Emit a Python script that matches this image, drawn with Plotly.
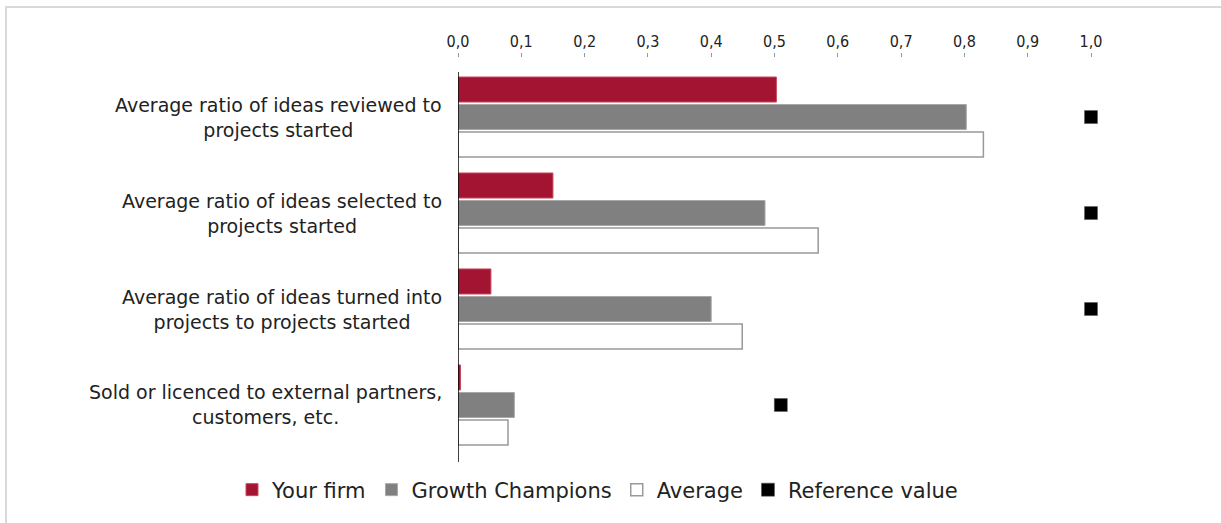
import plotly.graph_objects as go

# Categories (top to bottom) and series values
categories = [
    "Average ratio of ideas reviewed to<br>projects started",
    "Average ratio of ideas selected to<br>projects started",
    "Average ratio of ideas turned into<br>projects to projects started",
    "Sold or licenced to external partners,<br>customers, etc.",
]
your_firm = [0.503, 0.150, 0.052, 0.004]
growth_champions = [0.803, 0.485, 0.400, 0.089]
average = [0.830, 0.569, 0.449, 0.079]
reference_value = [1.0, 1.0, 1.0, 0.51]
tick_values = [0.0, 0.1, 0.2, 0.3, 0.4, 0.5, 0.6, 0.7, 0.8, 0.9, 1.0]

W, H = 1221, 523
ML, MR, MT, MB = 458, 130, 58, 61
PW, PH = W - ML - MR, H - MT - MB


def px_x(px):
    """Pixel column -> paper x."""
    return (px - ML) / PW


def px_y(py):
    """Pixel row -> paper y."""
    return (H - MB - py) / PH


idx = list(range(len(categories)))
LABEL_FONT = "DejaVu Sans, Verdana, sans-serif"
TICK_FONT = "DejaVu Sans Condensed, DejaVu Sans, sans-serif"

fig = go.Figure()
fig.add_trace(go.Bar(
    name="Your firm", y=idx, x=your_firm, orientation="h",
    marker=dict(color="#A31432", line=dict(color="#C9485E", width=1)),
))
fig.add_trace(go.Bar(
    name="Growth Champions", y=idx, x=growth_champions, orientation="h",
    marker=dict(color="#808080", line=dict(color="#A8A8A8", width=1)),
))
fig.add_trace(go.Bar(
    name="Average", y=idx, x=average, orientation="h",
    marker=dict(color="#FFFFFF", line=dict(color="#999999", width=1.5)),
))
fig.add_trace(go.Scatter(
    name="Reference value", y=idx, x=reference_value, mode="markers",
    marker=dict(symbol="square", size=13, color="#000000",
                line=dict(color="#555555", width=0.5)),
    cliponaxis=False,
))

# Category labels, centred multi-line text to the left of the axis
for i, label in enumerate(categories):
    fig.add_annotation(
        x=0, y=i, xref="x", yref="y", text=label, showarrow=False,
        xanchor="right", yanchor="middle", align="center", xshift=-14,
        font=dict(family=LABEL_FONT, size=19, color="#222222"),
    )

# Vertical zero line
fig.add_shape(type="line", xref="x", yref="y", x0=0, x1=0, y0=-0.47, y1=3.594,
              line=dict(color="#000000", width=1.5), layer="above")

# Light frame along top and left edges
fig.add_shape(type="line", xref="paper", yref="paper",
              x0=px_x(5), x1=px_x(W + 5), y0=px_y(7), y1=px_y(7),
              line=dict(color="#D9D9D9", width=2))
fig.add_shape(type="line", xref="paper", yref="paper",
              x0=px_x(6), x1=px_x(6), y0=px_y(6), y1=px_y(H + 5),
              line=dict(color="#D9D9D9", width=2))

fig.update_layout(
    width=W, height=H,
    margin=dict(l=ML, r=MR, t=MT, b=MB, pad=0, autoexpand=False),
    paper_bgcolor="#FFFFFF", plot_bgcolor="#FFFFFF",
    separators=",.",
    barmode="group", bargap=0.14, bargroupgap=0.09,
    showlegend=True,
    legend=dict(
        orientation="h", xref="paper", yref="paper",
        x=px_x(232), xanchor="left", y=px_y(490), yanchor="middle",
        font=dict(family=LABEL_FONT, size=21, color="#222222"),
        itemwidth=30, tracegroupgap=0, bgcolor="rgba(0,0,0,0)",
    ),
    xaxis=dict(
        side="top", range=[0, 1.0], tickvals=tick_values, tickformat=".1f",
        showgrid=False, zeroline=False, showline=False,
        ticks="outside", ticklen=4, tickcolor="#999999", tickwidth=1,
        tickfont=dict(family=TICK_FONT, size=16, color="#222222"),
    ),
    yaxis=dict(
        range=[3.594, -0.615], showticklabels=False, showgrid=False,
        zeroline=False, showline=False, ticks="",
    ),
)

fig.write_html("out.html")
